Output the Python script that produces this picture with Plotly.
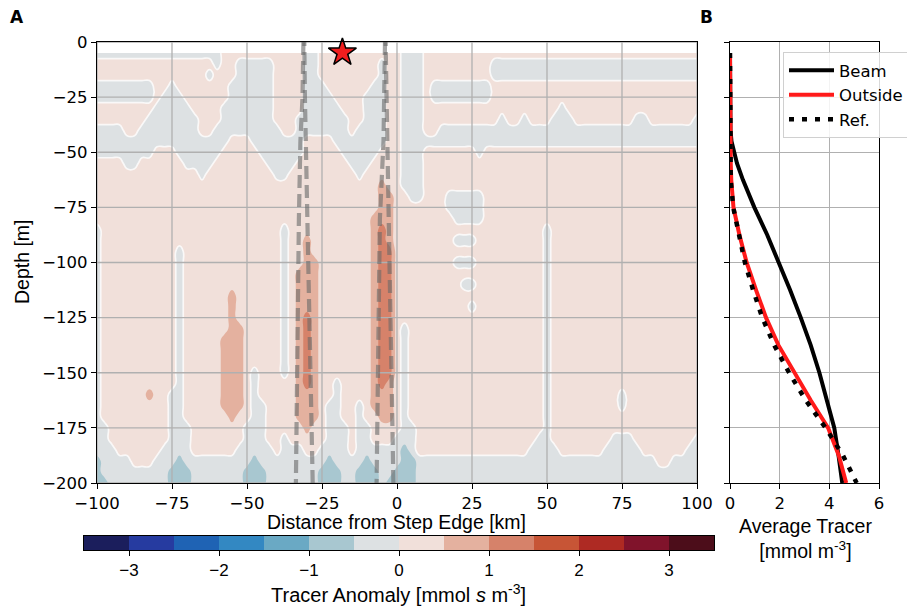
import numpy as np
import plotly.graph_objects as go

W, H = 907, 609

# ---------------- Panel A: tracer anomaly field ----------------
dist_km = [float(v) for v in np.arange(-100, 100.01, 2.5)]      # 81 columns
depth_m = [float(v) for v in np.arange(-5, -200.01, -5)]        # 40 rows
# band codes: b=-1..-0.5, g=-0.5..0, p=0..0.5, q=0.5..1, r=1..1.5  (value = band middle)
level_code = {"b": -0.75, "g": -0.25, "p": 0.25, "q": 0.75, "r": 1.25}
anomaly_rows = [
    "gggggggggg gggggggppp ppppppppgg pppppppppp pgggpppppp pppppppppp pppppppppp pppppppppp p",  # -5
    "pppppppppp ppppppgppg ggggppppgg ppppppppgp pgggpppppp pppggggggg gggggggggg gggggggggg g",  # -10
    "pppppppppp pppppgpppg ggggppppgg ppppppppgp pgggpppppp pppggggggg gggggggggg gggggggggg g",  # -15
    "ggggggggpp gpppppppgg ggggppppgg gppppppggp pgggpggggg gggppppppp pppppppppp pppppppppp p",  # -20
    "ggggggggpg ggppppppgg ggggppppgg ggppppgggp pgggpggggg gggppppppp pppppppppp pppppppppp p",  # -25
    "ppppppppgg gggppppggg ggggppppgg gggpppgggp pgggpppppp pppppppppp ppgppppppp pppppppppp p",  # -30
    "pppppppggg ggggpppggg ggggpppggg ggggppgggp pgggpppppp ppppgppgpp pgggpppppp ppggpppppp g",  # -35
    "ggggppgggg ggggppgggg gggggppggg ggggpggggp pgggppgggg gggggggggg gggggggggg gggggggggg g",  # -40
    "gggggggggg ggggggggpp pgggggggpp ppgggggggp pggggggggg gggggggggg gggggggggg gggggggggg g",  # -45
    "ggggggggpp pggggggppp ppggggggpp pppgggggpp pgggpppppp pgpppppppp pppppppppp pppppppppp p",  # -50
    "ppppggpppp ppggggpppp pppggggppp ppppgggppp pgggpppppp pppppppppp pppppppppp pppppppppp p",  # -55
    "pppppppppp ppppgppppp ppppggpppp pppppgpppp pgggpppppp pppppppppp pppppppppp pppppppppp p",  # -60
    "pppppppppp pppppppppp pppppppppp ppppppppqp pgggpppppp pppppppppp pppppppppp pppppppppp p",  # -65
    "pppppppppp pppppppppp pppppppppp ppppppppqq ppggpppggg ggpppppppp pppppppppp pppppppppp p",  # -70
    "pppppppppp pppppppppp pppppppppp ppppppppqq pppppppggg ggpppppppp pppppppppp pppppppppp p",  # -75
    "pppppppppp pppppppppp pppppppppp pppppppqqq ppppppppgg ggpppppppp pppppppppp pppppppppp p",  # -80
    "gppppppppp pppppppppp pppppgpppp pppppppqrq pppppppppp pppppppppp gppppppppp pppppppppp p",  # -85
    "gppppppppp pppppppppp pppppgppqp pppppppqrq ppppppppgg gppppppppp gppppppppp pppppppppp p",  # -90
    "gppppppppp pgpppppppp pppppgppqp pppppppqrr pppppppppp pppppppppp gppppppppp pppppppppp p",  # -95
    "gppppppppp pgpppppppp pppppgppqq pppppppqrr ppppppppgg gppppppppp gppppppppp pppppppppp p",  # -100
    "gppppppppp pgpppppppp pppppgpqqq pppppppqrr pppppppppp pppppppppp gppppppppp pppppppppp p",  # -105
    "gppppppppp pgpppppppp pppppgpqqq pppppppqrr pppppppppg gppppppppp gppppppppp pppppppppp p",  # -110
    "gppppppppp pgppppppqp pppppgpqqq pppppppqrr pppppppppp pppppppppp gppppppppp pppppppppp p",  # -115
    "gppppppppp pgppppppqp pppppgpqqq pppppppqrr pppppppppp gppppppppp gppppppppp pppppppppp p",  # -120
    "gppppppppp pgppppppqp pppppgpqrq pppppppqrr pppppppppp pppppppppp gppppppppp pppppppppp p",  # -125
    "gppppppppp pgppppppqq pppppgpqrq pppppppqrr pgpppppppp pppppppppp gppppppppp pppppppppp p",  # -130
    "gppppppppp pgpppppqqq pppppgpqrq pppppppqrr pgpppppppp pppppppppp gppppppppp pppppppppp p",  # -135
    "gppppppppp pgpppppqqq pppppgpqrq pppppppqrr pgpppppppp pppppppppp gppppppppp pppppppppp p",  # -140
    "gppppppppp pgpppppqqq pppppgpqrq pppppppqrr pgpppppppp pppppppppp gppppppppp pppppppppp p",  # -145
    "gppppppppp pgpppppqqq pgpppgpqrq pppppppqrr pgpppppppp pppppppppp gppppppppp pppppppppp p",  # -150
    "gppppppppp pgpppppqqq pgpppppqrq ppgppppqrq pgpppppppp pppppppppp gppppppppp pppppppppp p",  # -155
    "gppppppqpp ggpppppqqq pgpppppqqq ppgppppqqq pgpppppppp pppppppppp gppppppppp gppppppppp p",  # -160
    "gppppppppp ggpppppqqq pggppppqqq pggppgpqqq pgpppppppp pppppppppp gppppppppp gppppppppp p",  # -165
    "gppppppppp ggppppppqp pggppppqqq pggppgppqq pgpppppppp pppppppppp gppppppppp pppppppppp p",  # -170
    "ggpppppppp gggppppppp gggpppppqp pgggpggppp pggppppppp pppppppppp gppppppppp pppppppppp p",  # -175
    "ggpppppppp gggppppppp gggppgpppp pgggpggppp gggppppppp pppppppppg gppppppppg ggpppppppp g",  # -180
    "gggppppppg gggppppppg ggggpgggpp ggggpggggg gbgppppppp ppppppppgg ggppppppgg gggppppppg g",  # -185
    "bggggpppgg gbgggggggg gbgggggggg gbggggbggg gbbggggggg gggggggggg gggggggggg gggggppggg g",  # -190
    "bggggggggg bbbggggggg bbbggggggg bbbggbbbgg bbbggggggg gggggggggg gggggggggg gggggggggg g",  # -195
    "bbgggggggg bbbggggggg bbbggggggg bbbggbbbgb bbbggggggg gggggggggg gggggggggg gggggggggg g",  # -200
]
anomaly = []
for row in anomaly_rows:
    vals = [level_code[c] for c in row.replace(" ", "")]
    vals = (vals + [vals[-1]] * 81)[:81]
    anomaly.append(vals)

# colour bands of the colour bar (-3.5 .. 3.5, step 0.5)
band_colors = ["#1b1e5c", "#263ba0", "#1f63b4", "#3388c2", "#6aa9c4", "#a8c7d0", "#dde1e3",
               "#f1e0da", "#e4b19f", "#d6826a", "#c75536", "#ae2a23", "#80132b", "#4c0d1a"]
cbar_centers = [-3.25, -2.75, -2.25, -1.75, -1.25, -0.75, -0.25,
                0.25, 0.75, 1.25, 1.75, 2.25, 2.75, 3.25]
cbar_ticks = [-3, -2, -1, 0, 1, 2, 3]

# beam edges (grey dashed lines)
beam_depth = [0, -25, -45, -80, -140, -200]
beam1_left = [-31.2, -31.5, -32.2, -32.7, -33.2, -33.7]
beam1_right = [-30.9, -30.7, -30.4, -29.6, -28.9, -28.1]
beam2_left = [-4.0, -4.2, -4.5, -5.7, -6.3, -6.8]
beam2_right = [-3.8, -3.6, -3.4, -2.9, -2.0, -1.2]
star_x, star_depth = [-18.2], [-4.8]

x_ticks = [-100, -75, -50, -25, 0, 25, 50, 75, 100]
depth_ticks = [0, -25, -50, -75, -100, -125, -150, -175, -200]

# ---------------- Panel B: average tracer profiles ----------------
prof_depth = [-5, -30, -40, -45, -50, -55, -62.5, -75, -87.5, -100, -112.5, -125,
              -137.5, -150, -162.5, -175, -187.5, -200]
beam_prof = [0, 0, 0.02, 0.06, 0.15, 0.28, 0.52, 0.98, 1.5, 1.98, 2.42, 2.85,
             3.25, 3.6, 3.92, 4.2, 4.37, 4.52]
outside_prof = [0, 0, 0, 0.01, 0.02, 0.03, 0.05, 0.14, 0.38, 0.67, 1.05, 1.45,
                1.95, 2.58, 3.25, 3.95, 4.38, 4.68]
ref_prof = [0, 0, 0, 0, 0.01, 0.01, 0.03, 0.13, 0.35, 0.6, 0.93, 1.3,
            1.78, 2.38, 3.05, 3.85, 4.55, 5.1]
tracer_ticks = [0, 2, 4, 6]


def fmt(v):
    return ("\u2212" + str(abs(v))) if v < 0 else str(v)


def px_x(p):
    return p / W


def px_y(p):
    return 1 - p / H


step_scale = []
n = len(band_colors)
for k, c in enumerate(band_colors):
    step_scale.append([k / n, c])
    step_scale.append([(k + 1) / n, c])

TICKF = dict(family="DejaVu Sans", size=16.5, color="black")
LABF = dict(family="Liberation Sans, Arial", size=19.5, color="black")
GRID = "#b0b0b0"

fig = go.Figure()

# filled contour
fig.add_trace(go.Contour(
    x=dist_km, y=depth_m, z=anomaly, colorscale=step_scale, autocontour=False,
    contours=dict(start=-3, end=3, size=0.5, coloring="fill", showlines=False),
    line=dict(width=0, smoothing=1.3), showscale=False, hoverinfo="skip", showlegend=False,
    xaxis="x", yaxis="y"))
# zero contour in white
fig.add_trace(go.Contour(
    x=dist_km, y=depth_m, z=anomaly, autocontour=False,
    contours=dict(start=0, end=0.25, size=1, coloring="none"),
    line=dict(color="rgba(255,255,255,0.78)", width=1.7, smoothing=1.3),
    showscale=False, hoverinfo="skip", showlegend=False, xaxis="x", yaxis="y"))

# grid lines of panel A drawn above the field
gx, gy = [], []
for t in x_ticks:
    gx += [t, t, None]
    gy += [depth_ticks[-1], depth_ticks[0], None]
for t in depth_ticks:
    gx += [x_ticks[0], x_ticks[-1], None]
    gy += [t, t, None]
fig.add_trace(go.Scatter(x=gx, y=gy, mode="lines", line=dict(color=GRID, width=1.3),
                         hoverinfo="skip", showlegend=False, xaxis="x", yaxis="y"))

# beam edges
beam_style = dict(color="rgba(105,105,105,0.6)", width=4.2, dash="13px,6px")
for bx, down in [(beam1_left, True), (beam1_right, False), (beam2_left, True), (beam2_right, False)]:
    xs = bx if down else bx[::-1]
    ys = beam_depth if down else beam_depth[::-1]
    fig.add_trace(go.Scatter(x=xs, y=ys, mode="lines", line=beam_style, hoverinfo="skip",
                             showlegend=False, cliponaxis=False, xaxis="x", yaxis="y"))

fig.add_trace(go.Scatter(x=star_x, y=star_depth, mode="markers",
                         marker=dict(symbol="star", size=21, color="#f01e1e",
                                     line=dict(color="black", width=1.5)),
                         cliponaxis=False, showlegend=False, hoverinfo="skip",
                         xaxis="x", yaxis="y"))

# panel B
fig.add_trace(go.Scatter(x=beam_prof, y=prof_depth, mode="lines", name="Beam",
                         line=dict(color="black", width=4), xaxis="x2", yaxis="y2"))
fig.add_trace(go.Scatter(x=outside_prof, y=prof_depth, mode="lines", name="Outside",
                         line=dict(color="#ff1a1a", width=4), xaxis="x2", yaxis="y2"))
fig.add_trace(go.Scatter(x=ref_prof, y=prof_depth, mode="lines", name="Ref.",
                         line=dict(color="black", width=4.5, dash="5px,8px"),
                         xaxis="x2", yaxis="y2"))

# colour bar as a heatmap strip
fig.add_trace(go.Heatmap(x=cbar_centers, y=[0], z=[cbar_centers], colorscale=step_scale,
                         zmin=-3.5, zmax=3.5, showscale=False, hoverinfo="skip",
                         showlegend=False, xaxis="x3", yaxis="y3"))

axis_common = dict(showline=True, linecolor="black", linewidth=1.2, mirror=True,
                   ticks="outside", ticklen=5, tickwidth=1.2, tickcolor="black",
                   zeroline=False, tickfont=TICKF)

fig.update_layout(
    width=W, height=H, margin=dict(l=0, r=0, t=0, b=0, autoexpand=False),
    paper_bgcolor="white", plot_bgcolor="white",
    xaxis=dict(domain=[px_x(97), px_x(697)], range=[-100, 100], tickvals=x_ticks,
               ticktext=[fmt(v) for v in x_ticks], showgrid=False, anchor="y", **axis_common),
    yaxis=dict(domain=[px_y(483), px_y(42)], range=[-200, 0], tickvals=depth_ticks,
               ticktext=[fmt(v) for v in depth_ticks], showgrid=False, anchor="x", **axis_common),
    xaxis2=dict(domain=[px_x(730), px_x(879)], range=[0, 6], tickvals=tracer_ticks,
                ticktext=[fmt(v) for v in tracer_ticks], showgrid=True, gridcolor=GRID,
                gridwidth=1.3, anchor="y2", **axis_common),
    yaxis2=dict(domain=[px_y(483), px_y(42)], range=[-200, 0], tickvals=depth_ticks,
                showticklabels=False, showgrid=True, gridcolor=GRID, gridwidth=1.3,
                anchor="x2", **axis_common),
    xaxis3=dict(domain=[px_x(84), px_x(714)], range=[-3.5, 3.5], tickvals=cbar_ticks,
                ticktext=[fmt(v) for v in cbar_ticks], showgrid=False, anchor="y3",
                showline=True, linecolor="black", linewidth=1, mirror=True,
                ticks="outside", ticklen=5, tickwidth=1, tickcolor="black", zeroline=False,
                tickfont=dict(family="Liberation Sans, Arial", size=17, color="black")),
    yaxis3=dict(domain=[px_y(550), px_y(536)], range=[-0.5, 0.5], showticklabels=False,
                ticks="", showgrid=False, zeroline=False, anchor="x3",
                showline=True, linecolor="black", linewidth=1, mirror=True),
    legend=dict(x=px_x(783), y=px_y(52), xanchor="left", yanchor="top",
                bgcolor="rgba(255,255,255,0.85)", bordercolor="#d0d0d0", borderwidth=1,
                font=dict(family="DejaVu Sans", size=16.5, color="black"),
                itemwidth=45, tracegroupgap=0),
    showlegend=True,
)

ann = [
    dict(text="<b>A</b>", x=px_x(17), y=px_y(17),
         font=dict(family="DejaVu Sans", size=17, color="black")),
    dict(text="<b>B</b>", x=px_x(706), y=px_y(17),
         font=dict(family="DejaVu Sans", size=17, color="black")),
    dict(text="Depth [m]", x=px_x(22), y=px_y(262), textangle=-90, font=LABF),
    dict(text="Distance from Step Edge [km]", x=px_x(396), y=px_y(522), font=LABF),
    dict(text="Average Tracer<br>[mmol m<sup>-3</sup>]", x=px_x(805), y=px_y(538), font=LABF),
    dict(text="Tracer Anomaly [mmol <i>s</i> m<sup>-3</sup>]", x=px_x(398), y=px_y(593),
         font=dict(family="Liberation Sans, Arial", size=20, color="black")),
]
for a in ann:
    fig.add_annotation(xref="paper", yref="paper", showarrow=False, xanchor="center",
                       yanchor="middle", **a)

fig.write_html("out.html", post_script="document.body.style.margin='0px';",
               config={"displayModeBar": False})
